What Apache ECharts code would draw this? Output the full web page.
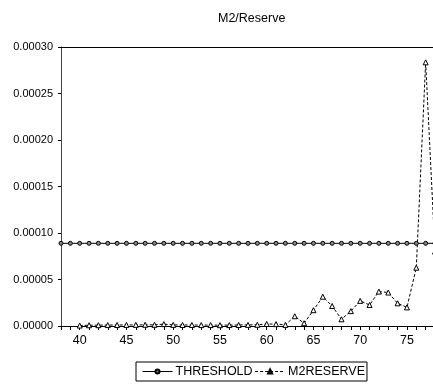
<!DOCTYPE html>
<html>
<head>
<meta charset="utf-8">
<script src="https://cdn.jsdelivr.net/npm/echarts@6/dist/echarts.min.js"></script>
<style>html,body{margin:0;padding:0;background:#fff}#c{width:433px;height:388px}</style>
</head>
<body>
<div id="c"></div>
<script>
var title = 'M2/Reserve';
var thresholdX = [38,39,40,41,42,43,44,45,46,47,48,49,50,51,52,53,54,55,56,57,58,59,60,61,62,63,64,65,66,67,68,69,70,71,72,73,74,75,76,77,78];
var thresholdValue = 0.0000889;
var m2X = [40,41,42,43,44,45,46,47,48,49,50,51,52,53,54,55,56,57,58,59,60,61,62,63,64,65,66,67,68,69,70,71,72,73,74,75,76,77,78];
var m2Values = [0.0000005,0.0000008,0.0000009,0.0000010,0.0000011,0.0000012,0.0000012,0.0000013,0.0000013,0.0000020,0.0000012,0.0000011,0.0000011,0.0000010,0.0000010,0.0000009,0.0000010,0.0000011,0.0000012,0.0000013,0.0000022,0.0000020,0.0000012,0.0000105,0.0000030,0.0000170,0.0000315,0.0000215,0.0000072,0.0000160,0.0000270,0.0000226,0.0000370,0.0000360,0.0000244,0.0000200,0.0000627,0.0002835,0.0000800];
var xTickLabels = [40,45,50,55,60,65,70,75];

var thresholdData = thresholdX.map(function(x){return [x, thresholdValue];});
var m2Data = m2X.map(function(x,i){return [x, m2Values[i]];});

var chart = echarts.init(document.getElementById('c'), null, {renderer:'canvas'});
var font = 'Liberation Sans, Arial, sans-serif';
chart.setOption({
  animation:false,
  title:{text:title,left:213,top:7,textStyle:{fontFamily:font,fontSize:12.5,fontWeight:'normal',color:'#000'}},
  grid:{left:61,top:47,width:374,height:279,containLabel:false,outerBoundsMode:'none'},
  legend:{
    top:362,left:136,
    data:['THRESHOLD','M2RESERVE'],
    borderColor:'#000',borderWidth:1,padding:[3,2,3,6],itemGap:2,
    itemWidth:30,itemHeight:5,
    lineStyle:{width:1},
    textStyle:{fontFamily:font,fontSize:12.5,color:'#000',padding:[0,0,0,-2]}
  },
  xAxis:[{
    type:'value',min:38,max:78,interval:1,
    axisLine:{lineStyle:{color:'#000',width:1}},
    axisTick:{show:true,length:4,lineStyle:{color:'#000'}},
    splitLine:{show:false},
    axisLabel:{fontFamily:font,fontSize:12.5,color:'#000',margin:8,
      formatter:function(v){return xTickLabels.indexOf(v)>=0?String(v):'';}}
  },{
    type:'value',min:38,max:78,position:'top',
    axisLine:{show:true,lineStyle:{color:'#000',width:1}},
    axisTick:{show:false},axisLabel:{show:false},splitLine:{show:false}
  }],
  yAxis:{
    type:'value',min:0,max:0.0003,interval:0.00005,
    axisLine:{show:true,lineStyle:{color:'#444',width:1}},
    axisTick:{show:true,length:3,lineStyle:{color:'#000'}},
    splitLine:{show:false},
    axisLabel:{fontFamily:font,fontSize:11,color:'#000',margin:8,
      formatter:function(v){return v.toFixed(5);}}
  },
  series:[{
    name:'THRESHOLD',type:'line',data:thresholdData,
    symbol:'circle',symbolSize:4,showAllSymbol:true,
    lineStyle:{color:'#000',width:1},
    itemStyle:{color:'#888',borderColor:'#000',borderWidth:1}
  },{
    name:'M2RESERVE',type:'line',data:m2Data,
    symbol:'triangle',symbolSize:5,showAllSymbol:true,
    lineStyle:{color:'#000',width:1,type:[3,2]},
    itemStyle:{color:'#fff',borderColor:'#000',borderWidth:1}
  }]
});
</script>
</body>
</html>
